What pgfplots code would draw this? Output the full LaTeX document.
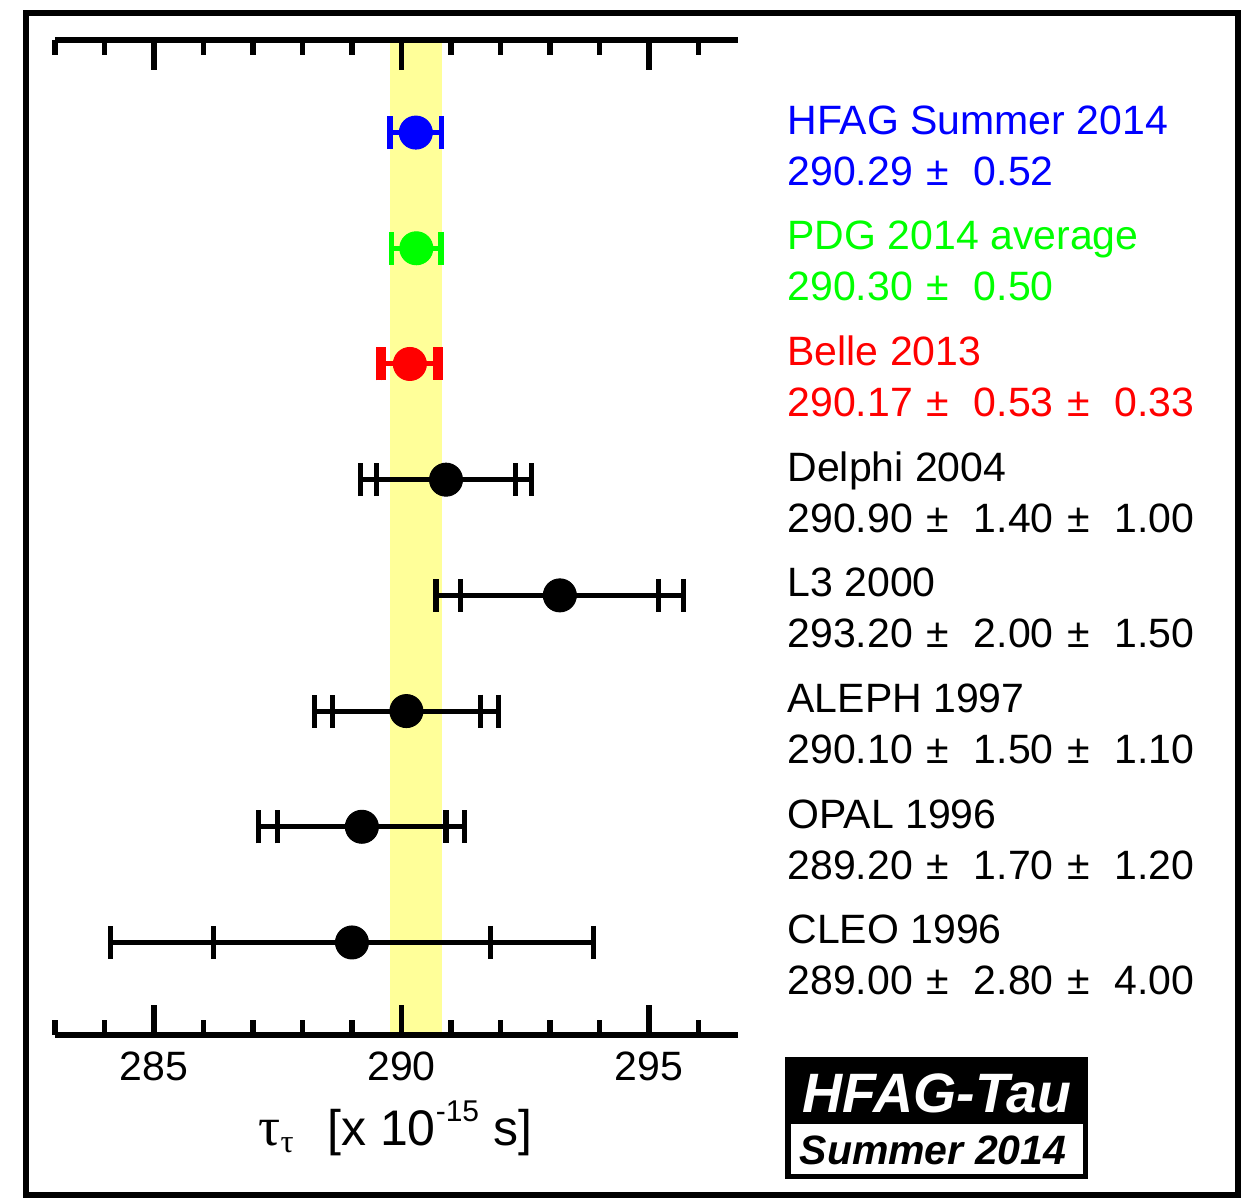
\documentclass[border=0pt]{standalone}
\usepackage{pgfplots}
\pgfplotsset{compat=1.18}
\usepackage{fontspec}
\setmainfont{Liberation Sans}
\newfontfamily\symf{Liberation Serif}
\definecolor{band}{RGB}{255,255,153}
\definecolor{hblue}{RGB}{0,0,255}
\definecolor{hgreen}{RGB}{0,255,0}
\definecolor{hred}{RGB}{255,0,0}
\pgfplotstableread{
y x stat tot
5 290.90 1.40 1.7205
4 293.20 2.00 2.5000
3 290.10 1.50 1.8601
2 289.20 1.70 2.0809
1 289.00 2.80 4.8826
}\blackdata
\newcommand{\F}{\fontsize{16.4}{19}\selectfont}
\newcommand{\pmsep}{\hspace{0.33em}±\hspace{0.61em}}
\pgfplotsset{
  ebar/.style={only marks, mark=none, error bars/.cd, x dir=both, x explicit,
    error mark=|,
    error bar style={line width=2pt},
    error mark options={line width=2.1pt, mark size=6.6pt}},
}
\begin{document}
\begin{tikzpicture}[x=0.4pt,y=-0.4pt]
\useasboundingbox (0,0) rectangle (1251,1199);
\draw[line width=2.4pt] (26,13.3) rectangle (1238.3,1195.3);
\begin{axis}[
  at={(22pt,-414pt)}, anchor=south west,
  scale only axis, width=273.2pt, height=398pt,
  xmin=283, xmax=296.8, ymin=0.2, ymax=8.8,
  axis x line=box, axis y line=none,
  axis line style={line width=2.2pt},
  xtick={285,290,295}, minor xtick={283,284,...,296},
  xtick align=inside, xticklabel pos=lower,
  major tick length=12pt, minor tick length=6pt,
  every tick/.style={line width=2.2pt, black},
  /pgf/number format/assume math mode=true,
  xticklabel style={font=\F, yshift=-3.4pt},
  axis on top,
  clip=false,
  xlabel={{\fontsize{22}{22}\selectfont\symf τ}\raisebox{-3pt}{\fontsize{13}{13}\selectfont\symf τ}\hspace{13.5pt}[x 10\raisebox{9.6pt}{\fontsize{12}{12}\selectfont -15} s]},
  xlabel style={font=\fontsize{20}{21}\selectfont, at={(axis description cs:0.2972,-0.1106)}, anchor=base west, inner sep=0pt},
]
\addplot[fill=band, draw=none] coordinates {(289.77,0.2) (290.81,0.2) (290.81,8.8) (289.77,8.8)} -- cycle;
% black points: total and stat error bars
\addplot[black, ebar] table[x=x, y=y, x error=tot]{\blackdata};
\addplot[black, ebar] table[x=x, y=y, x error=stat]{\blackdata};
\addplot[black, only marks, mark=*, mark size=6.6pt] table[x=x, y=y]{\blackdata};
% Belle
\addplot[hred, ebar] coordinates {(290.17,6) +- (0.6243,0)};
\addplot[hred, ebar] coordinates {(290.17,6) +- (0.53,0)};
\addplot[hred, only marks, mark=*, mark size=6.6pt] coordinates {(290.17,6)};
% PDG
\addplot[hgreen, ebar] coordinates {(290.30,7) +- (0.50,0)};
\addplot[hgreen, only marks, mark=*, mark size=6.6pt] coordinates {(290.30,7)};
% HFAG
\addplot[hblue, ebar] coordinates {(290.29,8) +- (0.52,0)};
\addplot[hblue, only marks, mark=*, mark size=6.6pt] coordinates {(290.29,8)};
\end{axis}
\begin{scope}[every node/.style={anchor=base west, inner sep=0pt, font=\F}]
\node[text=hblue]  at (787,134)   {HFAG Summer 2014};
\node[text=hblue]  at (787,185)   {290.29\pmsep 0.52};
\node[text=hgreen] at (787,249.7) {PDG 2014 average};
\node[text=hgreen] at (787,300.7) {290.30\pmsep 0.50};
\node[text=hred]   at (787,365.4) {Belle 2013};
\node[text=hred]   at (787,416.4) {290.17\pmsep 0.53\pmsep 0.33};
\node at (787,481.1) {Delphi 2004};
\node at (787,532.1) {290.90\pmsep 1.40\pmsep 1.00};
\node at (787,596.8) {L3 2000};
\node at (787,647.8) {293.20\pmsep 2.00\pmsep 1.50};
\node at (787,712.5) {ALEPH 1997};
\node at (787,763.5) {290.10\pmsep 1.50\pmsep 1.10};
\node at (787,828.2) {OPAL 1996};
\node at (787,879.2) {289.20\pmsep 1.70\pmsep 1.20};
\node at (787,943.9) {CLEO 1996};
\node at (787,994.9) {289.00\pmsep 2.80\pmsep 4.00};
\end{scope}
\fill[black] (785,1057) rectangle (1088,1179);
\fill[white] (791,1124) rectangle (1083,1174);
\node[anchor=base, inner sep=0pt, text=white, font=\fontsize{22.2}{23}\selectfont\bfseries\itshape] at (937,1112) {HFAG-Tau};
\node[anchor=base, inner sep=0pt, font=\fontsize{16.4}{17}\selectfont\bfseries\itshape] at (933,1164) {Summer 2014};
\end{tikzpicture}
\end{document}
